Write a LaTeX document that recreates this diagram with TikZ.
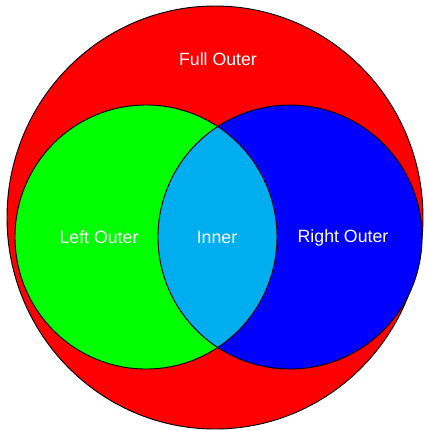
\documentclass[tikz,border=0pt]{standalone}
\usepackage{fontspec}
\setmainfont{Liberation Sans}
\definecolor{fullred}{RGB}{255,0,0}
\definecolor{leftgreen}{RGB}{0,255,0}
\definecolor{rightblue}{RGB}{0,0,255}
\definecolor{innercyan}{RGB}{0,173,239}
\tikzset{
  lbl/.style={text=white, font=\fontsize{13.3}{15}\selectfont, anchor=base, inner sep=0pt},
  outline/.style={draw=black, line width=0.7pt}
}
\begin{document}
\begin{tikzpicture}[x=0.75pt, y=-0.75pt]
\useasboundingbox (0,0) rectangle (427,430);
% full outer
\fill[fullred] (215,217.5) ellipse [x radius=208, y radius=211.5];
\draw[outline] (215,217.5) ellipse [x radius=208, y radius=211.5];
% left and right
\fill[leftgreen] (146,237) ellipse [x radius=131, y radius=132];
\fill[rightblue] (290,237) ellipse [x radius=132, y radius=132];
\begin{scope}
  \clip (146,237) ellipse [x radius=131, y radius=132];
  \fill[innercyan] (290,237) ellipse [x radius=132, y radius=132];
\end{scope}
\draw[outline] (146,237) ellipse [x radius=131, y radius=132];
\draw[outline] (290,237) ellipse [x radius=132, y radius=132];
% labels
\node[lbl] (full) at (218,65.5) {Full Outer};
\node[lbl] (left) at (99,243) {Left Outer};
\node[lbl] (inner) at (217,243) {Inner};
\node[lbl] (right) at (343,242.5) {Right Outer};
\end{tikzpicture}
\end{document}
